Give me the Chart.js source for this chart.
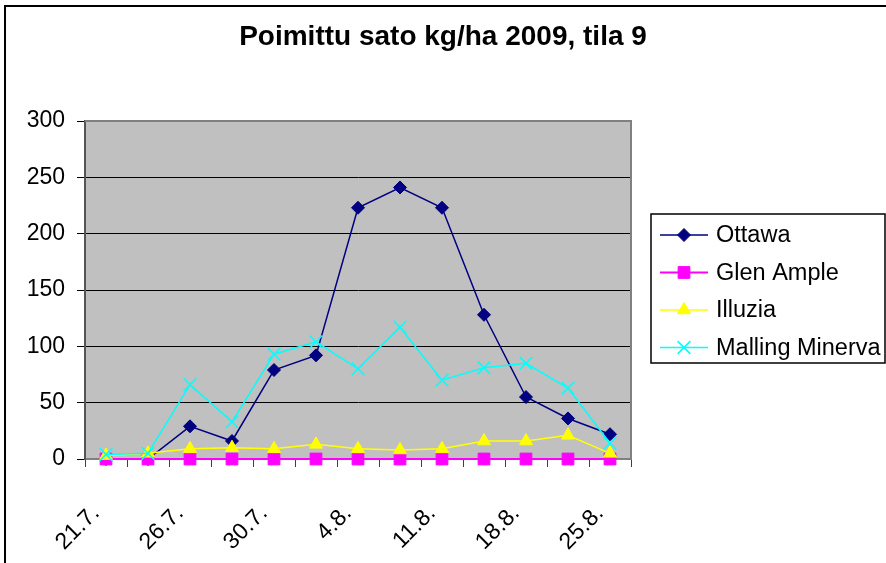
<!DOCTYPE html>
<html>
<head>
<meta charset="utf-8">
<script src="https://cdn.jsdelivr.net/npm/chart.js@4.4.1/dist/chart.umd.min.js"></script>
<style>
  html, body { margin: 0; padding: 0; background: #fff; }
  #wrap { width: 886px; height: 563px; position: relative; }
</style>
</head>
<body>
<div id="wrap"><canvas id="chart" width="886" height="563"></canvas></div>
<script>
// Picking dates (only every other one is labelled on the axis)
const dates = ['21.7.', '23.7.', '26.7.', '28.7.', '30.7.', '2.8.', '4.8.', '7.8.', '11.8.', '14.8.', '18.8.', '21.8.', '25.8.'];

// Yield kg/ha per variety
const ottawa = [0, 0, 29, 16, 79, 92, 223, 241, 223, 128, 55, 36, 22];
const glenAmple = [0, 0, 0, 0, 0, 0, 0, 0, 0, 0, 0, 0, 0];
const illuzia = [3, 5, 9, 10, 9, 13, 9, 8, 9, 16, 16, 21, 5];
const mallingMinerva = [4, 5, 66, 33, 93, 104, 80, 117, 70, 81, 85, 63, 14];

const yTicks = [0, 50, 100, 150, 200, 250, 300];

const FONT = "'Liberation Sans', Arial, sans-serif";

function makeSeries(label, data, color, pointStyle, radius, order, width) {
    return {
        label: label,
        data: data,
        borderColor: color,
        backgroundColor: color,
        borderWidth: width,
        pointStyle: pointStyle,
        pointRadius: radius,
        pointHoverRadius: radius,
        pointBorderWidth: pointStyle === 'crossRot' ? 1.5 : 1,
        pointBorderColor: color,
        pointBackgroundColor: color,
        tension: 0,
        fill: false,
        clip: false,
        order: order
    };
}

// plot background, frame and outer chart border
const framePlugin = {
    id: 'frame',
    beforeDraw(chart) {
        const { ctx, chartArea: a } = chart;
        ctx.save();
        ctx.fillStyle = '#fff';
        ctx.fillRect(0, 0, chart.width, chart.height);
        ctx.strokeStyle = '#000';
        ctx.lineWidth = 2;
        ctx.strokeRect(5, 6, chart.width + 10, chart.height + 10);
        ctx.fillStyle = '#C0C0C0';
        ctx.fillRect(a.left, a.top, a.right - a.left, a.bottom - a.top);
        ctx.restore();
    },
    beforeDatasetsDraw(chart) {
        const { ctx, chartArea: a } = chart;
        ctx.save();
        ctx.strokeStyle = '#808080';
        ctx.lineWidth = 2;
        ctx.beginPath();
        ctx.moveTo(a.left, a.top);
        ctx.lineTo(a.right, a.top);
        ctx.lineTo(a.right, a.bottom);
        ctx.stroke();
        ctx.restore();
    }
};

// Excel style legend: line with marker, framed box
const legendPlugin = {
    id: 'boxLegend',
    afterDraw(chart) {
        const ctx = chart.ctx;
        const x0 = 651, y0 = 214, w = 234, h = 149;
        ctx.save();
        ctx.fillStyle = '#fff';
        ctx.fillRect(x0, y0, w, h);
        ctx.strokeStyle = '#000';
        ctx.lineWidth = 1.5;
        ctx.strokeRect(x0, y0, w, h);
        ctx.font = '23.5px ' + FONT;
        ctx.textBaseline = 'middle';
        ctx.textAlign = 'left';
        chart.data.datasets.forEach((ds, i) => {
            const y = y0 + 21 + i * 37.5;
            ctx.strokeStyle = ds.borderColor;
            ctx.lineWidth = ds.borderWidth;
            ctx.beginPath();
            ctx.moveTo(660, y);
            ctx.lineTo(708, y);
            ctx.stroke();
            ctx.lineWidth = ds.pointBorderWidth;
            ctx.fillStyle = ds.pointBackgroundColor;
            Chart.helpers.drawPoint(ctx, {
                pointStyle: ds.pointStyle,
                radius: ds.pointRadius,
                borderWidth: ds.pointBorderWidth,
                rotation: 0
            }, 684, y);
            ctx.fillStyle = '#000';
            ctx.fillText(ds.label, 716, y + 1);
        });
        ctx.restore();
    }
};

new Chart(document.getElementById('chart'), {
    type: 'line',
    data: {
        labels: dates,
        datasets: [
            makeSeries('Ottawa', ottawa, '#000080', 'rectRot', 6.5, 4, 1.5),
            makeSeries('Glen Ample', glenAmple, '#FF00FF', 'rect', 8.3, 3, 2),
            makeSeries('Illuzia', illuzia, '#FFFF00', 'triangle', 7.5, 2, 1.5),
            makeSeries('Malling Minerva', mallingMinerva, '#00FFFF', 'crossRot', 9, 1, 1.5)
        ]
    },
    options: {
        responsive: false,
        animation: false,
        layout: { padding: 0 },
        plugins: {
            legend: { display: false },
            tooltip: { enabled: false },
            title: {
                display: true,
                text: 'Poimittu sato kg/ha 2009, tila 9',
                color: '#000',
                font: { family: FONT, size: 28, weight: 'bold', lineHeight: 1.2 },
                padding: { top: 20, bottom: 67.4 }
            }
        },
        scales: {
            x: {
                type: 'category',
                offset: true,
                afterFit(scale) { scale.height = 104; },
                grid: {
                    offset: true,
                    drawOnChartArea: false,
                    drawTicks: true,
                    tickLength: 8,
                    tickColor: '#404040'
                },
                border: { display: true, color: '#808080', width: 2 },
                ticks: {
                    autoSkip: false,
                    minRotation: 45,
                    maxRotation: 45,
                    padding: 33,
                    labelOffset: -10,
                    color: '#000',
                    font: { family: FONT, size: 23 },
                    callback(value, index) {
                        return index % 2 === 0 ? dates[index] : '';
                    }
                }
            },
            y: {
                min: yTicks[0],
                max: yTicks[yTicks.length - 1],
                afterFit(scale) { scale.width = 85; },
                afterBuildTicks(scale) {
                    scale.ticks = yTicks.map(v => ({ value: v }));
                },
                grid: {
                    color(c) {
                        const v = c.tick ? c.tick.value : null;
                        return (v === 0 || v === 300) ? 'rgba(0,0,0,0)' : '#000';
                    },
                    lineWidth: 1,
                    tickLength: 8,
                    tickColor: '#000'
                },
                border: { display: true, color: '#555', width: 2 },
                ticks: {
                    padding: 12,
                    color: '#000',
                    font: { family: FONT, size: 23 }
                }
            },
            // empty right axis that keeps room for the legend box
            legendSpace: {
                type: 'linear',
                position: 'right',
                min: 0,
                max: 300,
                afterFit(scale) { scale.width = 255; },
                grid: { drawOnChartArea: false, drawTicks: false },
                border: { display: false },
                ticks: { display: false }
            }
        }
    },
    plugins: [framePlugin, legendPlugin]
});
</script>
</body>
</html>
